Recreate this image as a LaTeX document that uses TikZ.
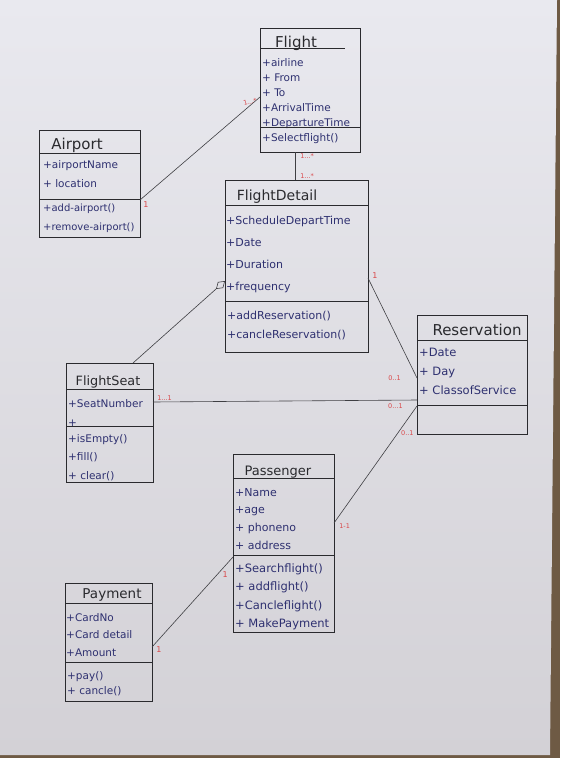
\documentclass[tikz,border=0pt]{standalone}
\usepackage{fontspec}
\setmainfont{DejaVu Sans}
\usetikzlibrary{arrows.meta}
\definecolor{ink}{HTML}{2E3070}
\definecolor{pen}{HTML}{2A2A2E}
\definecolor{mred}{HTML}{D9484A}
\definecolor{paperTop}{HTML}{E9E9EF}
\definecolor{paperBot}{HTML}{D3D1D6}
\definecolor{desk}{HTML}{6E5A44}

\begin{document}
\begin{tikzpicture}[x=1pt, y=-1pt,
    cls/.style = {draw=pen, line width=0.75pt, inner sep=0pt, outer sep=0pt},
    head/.style = {text=pen, inner sep=0pt},
    attr/.style = {text=ink, align=left, anchor=north west, inner sep=0pt},
    mult/.style = {text=mred, inner sep=0pt, font=\fontsize{6.5}{7}\selectfont},
    link/.style = {draw=pen!90, line width=0.6pt}]
    \useasboundingbox (0,0) rectangle (560,758);
    \fill[desk] (0,0) rectangle (560,758);
    \shade[top color=paperTop, bottom color=paperBot] (0,0) -- (557,0) -- (550,755) -- (0,755) -- cycle;

    % Flight
    \node[cls, minimum width=100pt, minimum height=124pt] (Flight) at (310,90) {};
    \node[head, font=\fontsize{15}{15}\selectfont] (FlightT) at (296,43) {Flight};
    \node[attr, font=\fontsize{10.5}{15}\selectfont] (FlightA) at (262,58) {+airline\\+ From\\+ To\\+ArrivalTime\\+DepartureTime};
    \node[attr, anchor=west, font=\fontsize{10.5}{15}\selectfont] (FlightM) at (262,139) {+Selectflight()};
    \draw[cls] (Flight.west |- 0,48) -- ([xshift=-15pt]Flight.east |- 0,48);
    \draw[cls] (Flight.west |- 0,127) -- (Flight.east |- 0,127);

    % Airport
    \node[cls, minimum width=101pt, minimum height=107pt] (Airport) at (89.5,183.5) {};
    \node[head, font=\fontsize{15}{15}\selectfont] (AirportT) at (77,145) {Airport};
    \node[attr, font=\fontsize{10.5}{19}\selectfont] (AirportA) at (43,160) {+airportName\\+ location};
    \node[attr, font=\fontsize{10}{19}\selectfont] (AirportM) at (43,204) {+add-airport()\\+remove-airport()};
    \draw[cls] (Airport.west |- 0,153) -- (Airport.east |- 0,153);
    \draw[cls] (Airport.west |- 0,199) -- (Airport.east |- 0,199);

    % FlightDetail
    \node[cls, minimum width=143pt, minimum height=172pt] (Detail) at (296.5,266) {};
    \node[head, font=\fontsize{14}{14}\selectfont] (DetailT) at (277,197) {FlightDetail};
    \node[attr, font=\fontsize{11}{22}\selectfont] (DetailA) at (226,216) {+ScheduleDepartTime\\+Date\\+Duration\\+frequency};
    \node[attr, font=\fontsize{11}{19}\selectfont] (DetailM) at (227,311) {+addReservation()\\+cancleReservation()};
    \draw[cls] (Detail.west |- 0,205) -- (Detail.east |- 0,205);
    \draw[cls] (Detail.west |- 0,301) -- (Detail.east |- 0,301);

    % Reservation
    \node[cls, minimum width=110pt, minimum height=119pt] (Res) at (472,374.5) {};
    \node[head, font=\fontsize{15}{15}\selectfont] (ResT) at (477,330) {Reservation};
    \node[attr, font=\fontsize{11.5}{19}\selectfont] (ResA) at (419,347.5) {+Date\\+ Day\\+ ClassofService};
    \draw[cls] (Res.west |- 0,340) -- (Res.east |- 0,340);
    \draw[cls] (Res.west |- 0,405) -- (Res.east |- 0,405);

    % FlightSeat
    \node[cls, minimum width=87pt, minimum height=119pt] (Seat) at (109.5,422.5) {};
    \node[head, font=\fontsize{12.8}{13}\selectfont] (SeatT) at (108,382) {FlightSeat};
    \node[attr, font=\fontsize{10.5}{19}\selectfont] (SeatA) at (68,399) {+SeatNumber\\+};
    \node[attr, font=\fontsize{10.5}{18.5}\selectfont] (SeatM) at (68,434) {+isEmpty()\\+fill()\\+ clear()};
    \draw[cls] (Seat.west |- 0,389) -- (Seat.east |- 0,389);
    \draw[cls] (Seat.west |- 0,426) -- (Seat.east |- 0,426);

    % Passenger
    \node[cls, minimum width=101pt, minimum height=178pt] (Pass) at (283.5,543) {};
    \node[head, font=\fontsize{13}{13}\selectfont] (PassT) at (278,472) {Passenger};
    \node[attr, font=\fontsize{11}{17.7}\selectfont] (PassA) at (235,488) {+Name\\+age\\+ phoneno\\+ address};
    \node[attr, font=\fontsize{11.5}{18.3}\selectfont] (PassM) at (235,563.5) {+Searchflight()\\+ addflight()\\+Cancleflight()\\+ MakePayment};
    \draw[cls] (Pass.west |- 0,478) -- (Pass.east |- 0,478);
    \draw[cls] (Pass.west |- 0,555) -- (Pass.east |- 0,555);

    % Payment
    \node[cls, minimum width=87pt, minimum height=118pt] (Pay) at (108.5,642) {};
    \node[head, font=\fontsize{13.5}{14}\selectfont] (PayT) at (112,595) {Payment};
    \node[attr, font=\fontsize{10.5}{17.5}\selectfont] (PayA) at (66,613) {+CardNo\\+Card detail\\+Amount};
    \node[attr, font=\fontsize{10.5}{15}\selectfont] (PayM) at (67,671) {+pay()\\+ cancle()};
    \draw[cls] (Pay.west |- 0,603) -- (Pay.east |- 0,603);
    \draw[cls] (Pay.west |- 0,662) -- (Pay.east |- 0,662);

    % associations
    \path[link] (Airport.east |- 0,200) edge
        node[mult, pos=0, anchor=west, xshift=3pt, yshift=-5pt, font=\fontsize{8}{8}\selectfont] {1}
        node[mult, pos=1, anchor=east, xshift=-3pt, yshift=-3pt, rotate=15] {1...*} (Flight.west |- 0,97);
    \path[link] (Flight.south -| 295,0) edge
        node[mult, pos=0, anchor=north west, xshift=5pt, yshift=-1pt] {1...*}
        node[mult, pos=1, anchor=south west, xshift=5pt, yshift=1pt] {1...*} (Detail.north -| 295,0);
    \path[link] (Seat.north -| 133,0) edge[-{Diamond[open, length=12pt, width=8pt]}] (Detail.west |- 0,281);
    \path[link] (Detail.east |- 0,278) edge
        node[mult, pos=0, anchor=west, xshift=4pt, yshift=2pt, font=\fontsize{8}{8}\selectfont] {1}
        node[mult, pos=1, anchor=east, xshift=-16pt] {0..1} (Res.west |- 0,378);
    \path[link] (Seat.east |- 0,402) edge
        node[mult, pos=0, anchor=south west, xshift=4pt, yshift=1pt] {1...1}
        node[mult, pos=1, anchor=north east, xshift=-14pt, yshift=-3pt] {0...1} (Res.west |- 0,400);
    \path[link] (Pass.east |- 0,523) edge
        node[mult, pos=0, anchor=west, xshift=5pt, yshift=-3pt] {1-1}
        node[mult, pos=0.77, anchor=west, xshift=3pt] {0..1} (Res.west |- 0,406);
    \path[link] (Pay.east |- 0,647) edge
        node[mult, pos=0, anchor=west, xshift=4pt, yshift=-3pt, font=\fontsize{8}{8}\selectfont] {1}
        node[mult, pos=1, anchor=north east, xshift=-5pt, yshift=-14pt, font=\fontsize{8}{8}\selectfont] {1} (Pass.west |- 0,557);
\end{tikzpicture}
\end{document}
